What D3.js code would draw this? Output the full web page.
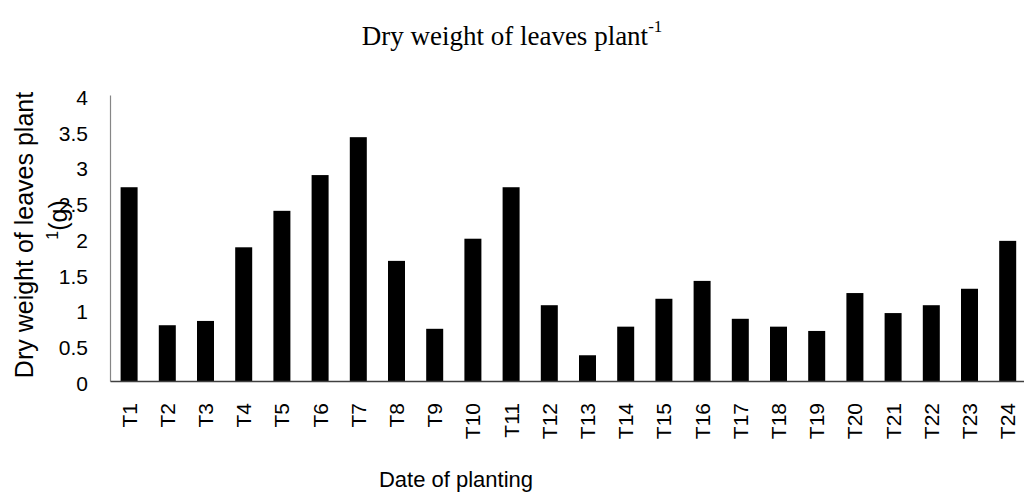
<!DOCTYPE html>
<html><head><meta charset="utf-8">
<script src="https://cdn.jsdelivr.net/npm/d3@7"></script>
<style>body{margin:0;background:#fff;}svg{display:block;}</style>
</head><body>
<svg id="c" width="1024" height="493"></svg>
<script>
const categories = ["T1","T2","T3","T4","T5","T6","T7","T8","T9","T10","T11","T12","T13","T14","T15","T16","T17","T18","T19","T20","T21","T22","T23","T24"];
const values = [2.71,0.78,0.84,1.87,2.38,2.88,3.41,1.68,0.73,1.99,2.71,1.06,0.36,0.76,1.15,1.40,0.87,0.76,0.70,1.23,0.95,1.06,1.29,1.96];
const yTicks = [0,0.5,1,1.5,2,2.5,3,3.5,4];

const svg = d3.select("#c");
const x0 = 110, step = 38.2, yTop = 95, yBot = 381;
const x = d3.scaleBand().domain(categories).range([x0, x0 + step*categories.length]).paddingInner(0.555).paddingOuter(0.2775);
const y = d3.scaleLinear().domain([0,4]).range([yBot, yTop]);

// bars
svg.append("g").selectAll("rect").data(values).join("rect")
  .attr("x", (d,i)=>x(categories[i]))
  .attr("y", d=>y(d))
  .attr("width", x.bandwidth())
  .attr("height", d=>yBot - y(d))
  .attr("fill", "#000");

// y axis
const ya = svg.append("g").attr("transform", `translate(${x0},0)`)
  .call(d3.axisLeft(y).tickValues(yTicks).tickSize(0).tickPadding(22).tickFormat(d=>String(d)));
ya.select(".domain").attr("stroke", "#868686").attr("stroke-width", 1.2);
ya.selectAll("text").attr("font-family", "Liberation Sans, Arial, sans-serif").attr("font-size", 21).attr("fill", "#000").attr("dy", "0.45em");

// x axis
const xa = svg.append("g").attr("transform", `translate(0,${yBot})`)
  .call(d3.axisBottom(x).tickSize(0).tickSizeOuter(0));
xa.select(".domain").attr("stroke", "#404040").attr("stroke-width", 1.5);
xa.selectAll("text")
  .attr("font-family", "Liberation Sans, Arial, sans-serif").attr("font-size", 21).attr("fill", "#000")
  .attr("text-anchor", "end")
  .attr("transform", "rotate(-90)")
  .attr("x", -22).attr("y", 0).attr("dy", "0.36em");

// title
const t = svg.append("text").attr("x", 512).attr("y", 45).attr("text-anchor", "middle")
  .attr("font-family", "Liberation Serif, Times New Roman, serif").attr("font-size", 27).attr("fill", "#000");
t.append("tspan").text("Dry weight of leaves plant");
t.append("tspan").attr("dy", -13).attr("font-size", 17).text("-1");

// y label
const yl = svg.append("text").attr("transform", "translate(33,235) rotate(-90)").attr("text-anchor", "middle")
  .attr("font-family", "Liberation Sans, Arial, sans-serif").attr("font-size", 25).attr("fill", "#000");
yl.text("Dry weight of leaves plant");
const yl2 = svg.append("text").attr("transform", "translate(67,220) rotate(-90)").attr("text-anchor", "middle")
  .attr("font-family", "Liberation Sans, Arial, sans-serif").attr("font-size", 25).attr("fill", "#000");
yl2.append("tspan").attr("font-size", 16).attr("dy", -9).text("1");
yl2.append("tspan").attr("dy", 9).text("(g)");

// x label
svg.append("text").attr("x", 456).attr("y", 487).attr("text-anchor", "middle")
  .attr("font-family", "Liberation Sans, Arial, sans-serif").attr("font-size", 22).attr("fill", "#000")
  .text("Date of planting");
</script>
</body></html>
